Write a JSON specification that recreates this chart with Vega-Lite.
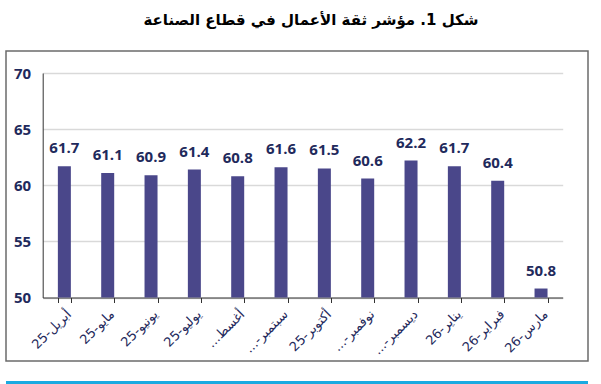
{
  "$schema": "https://vega.github.io/schema/vega-lite/v6.json",
  "width": 582,
  "height": 310,
  "autosize": "none",
  "padding": {"left": 6, "top": 51, "right": 13, "bottom": 23},
  "background": "white",
  "title": {
    "text": "شكل 1. مؤشر ثقة الأعمال في قطاع الصناعة",
    "font": "DejaVu Sans",
    "fontSize": 15,
    "fontWeight": "bold",
    "color": "#000000",
    "anchor": "middle",
    "dx": 14,
    "offset": 23
  },
  "config": {
    "view": {"stroke": "#6b6b6b", "strokeWidth": 1.5}
  },
  "data": {
    "values": [
      {"month": "أبريل-25", "value": 61.7},
      {"month": "مايو-25", "value": 61.1},
      {"month": "يونيو-25", "value": 60.9},
      {"month": "يوليو-25", "value": 61.4},
      {"month": "أغسط...\u200f", "value": 60.8},
      {"month": "سبتمبر-...\u200f", "value": 61.6},
      {"month": "أكتوبر-25", "value": 61.5},
      {"month": "نوفمبر-...\u200f", "value": 60.6},
      {"month": "ديسمبر-...\u200f", "value": 62.2},
      {"month": "يناير-26", "value": 61.7},
      {"month": "فبراير-26", "value": 60.4},
      {"month": "مارس-26", "value": 50.8}
    ]
  },
  "layer": [
    {
      "mark": {"type": "bar", "color": "#4A478A"},
      "encoding": {
        "x": {
          "field": "month",
          "type": "nominal",
          "sort": null,
          "scale": {"range": [36.7, 556.7], "paddingInner": 0.7, "paddingOuter": 0.35},
          "axis": {
            "title": null,
            "offset": -63.5,
            "tickBand": "extent",
            "tickSize": 5,
            "tickColor": "#333333",
            "domainColor": "#333333",
            "labelAngle": -45,
            "labelPadding": 5,
            "labelFont": "DejaVu Sans",
            "labelFontSize": 13,
            "labelColor": "#1F2A5C",
            "grid": false
          }
        },
        "y": {
          "field": "value",
          "type": "quantitative",
          "scale": {"domain": [50, 70], "range": [246.5, 22], "zero": false, "nice": false},
          "axis": {
            "title": null,
            "values": [50, 55, 60, 65, 70],
            "offset": -36.7,
            "ticks": false,
            "labelPadding": 12,
            "labelFont": "Open Sans",
            "labelFontWeight": "bold",
            "labelFontSize": 15,
            "labelColor": "#1F2A5C",
            "domainColor": "#333333",
            "grid": true,
            "gridColor": "#d9d9d9",
            "gridWidth": 1.5
          }
        },
        "y2": {"datum": 50}
      }
    },
    {
      "mark": {
        "type": "text",
        "font": "Open Sans",
        "fontWeight": "bold",
        "fontSize": 15,
        "color": "#1F2A5C",
        "baseline": "alphabetic",
        "dy": -13
      },
      "encoding": {
        "x": {"field": "month", "type": "nominal", "sort": null},
        "y": {"field": "value", "type": "quantitative"},
        "text": {"field": "value", "type": "quantitative", "format": ".1f"}
      }
    },
    {
      "mark": {"type": "rule", "color": "#1BAAE1", "strokeWidth": 3},
      "encoding": {
        "y": {"datum": 42.38}
      }
    }
  ]
}
